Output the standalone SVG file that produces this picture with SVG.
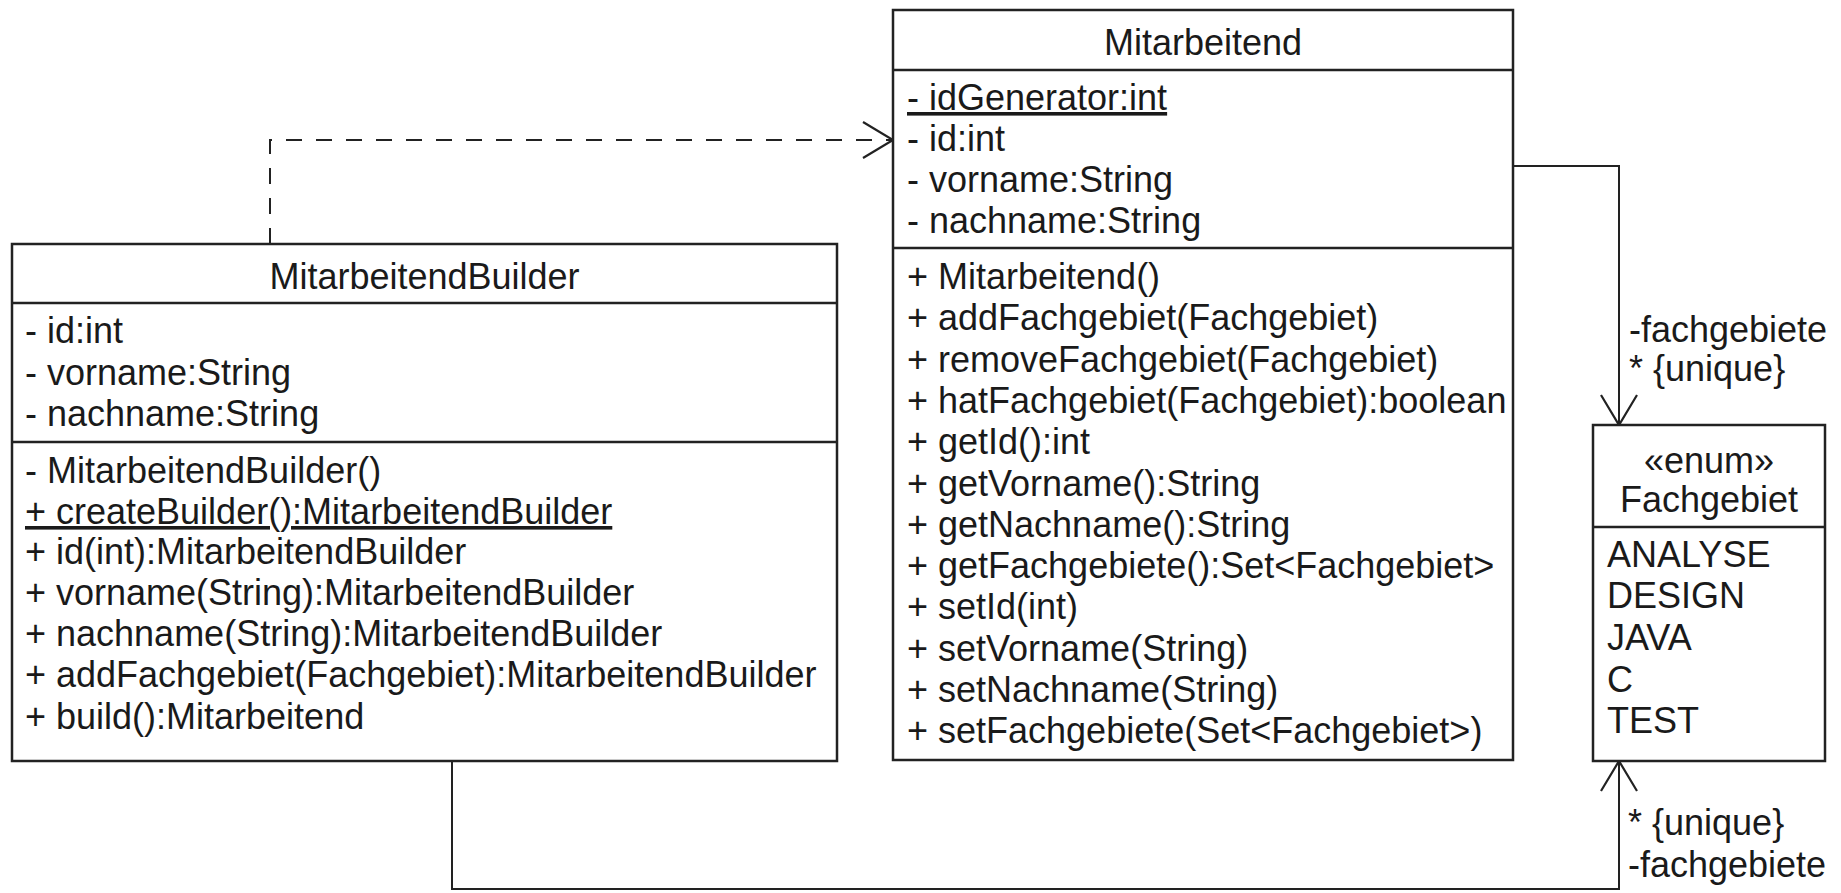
<svg xmlns="http://www.w3.org/2000/svg" width="1841" height="893" viewBox="0 0 1841 893">
<style>
text{font-family:"Liberation Sans",Arial,sans-serif;font-size:36px;fill:#1a1a1a}
.c{text-anchor:middle}
.u{text-decoration:underline}
.box{fill:#fff;stroke:#222;stroke-width:2.5}
.sep{stroke:#222;stroke-width:2.5}
.conn{fill:none;stroke:#222;stroke-width:2}
.dash{stroke-dasharray:16 14}
</style>
<defs>
<marker id="open" viewBox="-33 -21 36 42" markerWidth="36" markerHeight="42" refX="0" refY="0" orient="auto" markerUnits="userSpaceOnUse">
<path d="M-30,-18 L0,0 L-30,18" fill="none" stroke="#222" stroke-width="2.2" stroke-dasharray="none"/>
</marker>
</defs>
<rect width="1841" height="893" fill="#fff"/>
<g id="connectors">
<path class="conn dash" d="M270,244 V140 H893" marker-end="url(#open)"/>
<path class="conn" d="M1513,166 H1619 V425" marker-end="url(#open)"/>
<path class="conn" d="M452,761 V889 H1619 V761" marker-end="url(#open)"/>
<text x="1629" y="342">-fachgebiete</text>
<text x="1629" y="381">* {unique}</text>
<text x="1628" y="835">* {unique}</text>
<text x="1628" y="877">-fachgebiete</text>
</g>
<g id="MitarbeitendBuilder">
<rect class="box" x="12" y="244" width="825" height="517"/>
<line class="sep" x1="12" y1="303" x2="837" y2="303"/>
<line class="sep" x1="12" y1="442" x2="837" y2="442"/>
<text class="c" x="424.5" y="289">MitarbeitendBuilder</text>
<text x="25" y="343">- id:int</text>
<text x="25" y="385">- vorname:String</text>
<text x="25" y="426">- nachname:String</text>
<text x="25" y="483">- MitarbeitendBuilder()</text>
<text class="u" x="25" y="524">+ createBuilder():MitarbeitendBuilder</text>
<text x="25" y="564">+ id(int):MitarbeitendBuilder</text>
<text x="25" y="605">+ vorname(String):MitarbeitendBuilder</text>
<text x="25" y="646">+ nachname(String):MitarbeitendBuilder</text>
<text x="25" y="687">+ addFachgebiet(Fachgebiet):MitarbeitendBuilder</text>
<text x="25" y="729">+ build():Mitarbeitend</text>
</g>
<g id="Mitarbeitend">
<rect class="box" x="893" y="10" width="620" height="750"/>
<line class="sep" x1="893" y1="70" x2="1513" y2="70"/>
<line class="sep" x1="893" y1="248" x2="1513" y2="248"/>
<text class="c" x="1203" y="55">Mitarbeitend</text>
<text class="u" x="907" y="110">- idGenerator:int</text>
<text x="907" y="151">- id:int</text>
<text x="907" y="192">- vorname:String</text>
<text x="907" y="233">- nachname:String</text>
<text x="907" y="289">+ Mitarbeitend()</text>
<text x="907" y="330">+ addFachgebiet(Fachgebiet)</text>
<text x="907" y="372">+ removeFachgebiet(Fachgebiet)</text>
<text x="907" y="413">+ hatFachgebiet(Fachgebiet):boolean</text>
<text x="907" y="454">+ getId():int</text>
<text x="907" y="496">+ getVorname():String</text>
<text x="907" y="537">+ getNachname():String</text>
<text x="907" y="578">+ getFachgebiete():Set&lt;Fachgebiet&gt;</text>
<text x="907" y="619">+ setId(int)</text>
<text x="907" y="661">+ setVorname(String)</text>
<text x="907" y="702">+ setNachname(String)</text>
<text x="907" y="743">+ setFachgebiete(Set&lt;Fachgebiet&gt;)</text>
</g>
<g id="Fachgebiet">
<rect class="box" x="1593" y="425" width="232" height="336"/>
<line class="sep" x1="1593" y1="527" x2="1825" y2="527"/>
<text class="c" x="1709" y="473">«enum»</text>
<text class="c" x="1709" y="512">Fachgebiet</text>
<text x="1607" y="567">ANALYSE</text>
<text x="1607" y="608">DESIGN</text>
<text x="1607" y="650">JAVA</text>
<text x="1607" y="692">C</text>
<text x="1607" y="733">TEST</text>
</g>
</svg>
